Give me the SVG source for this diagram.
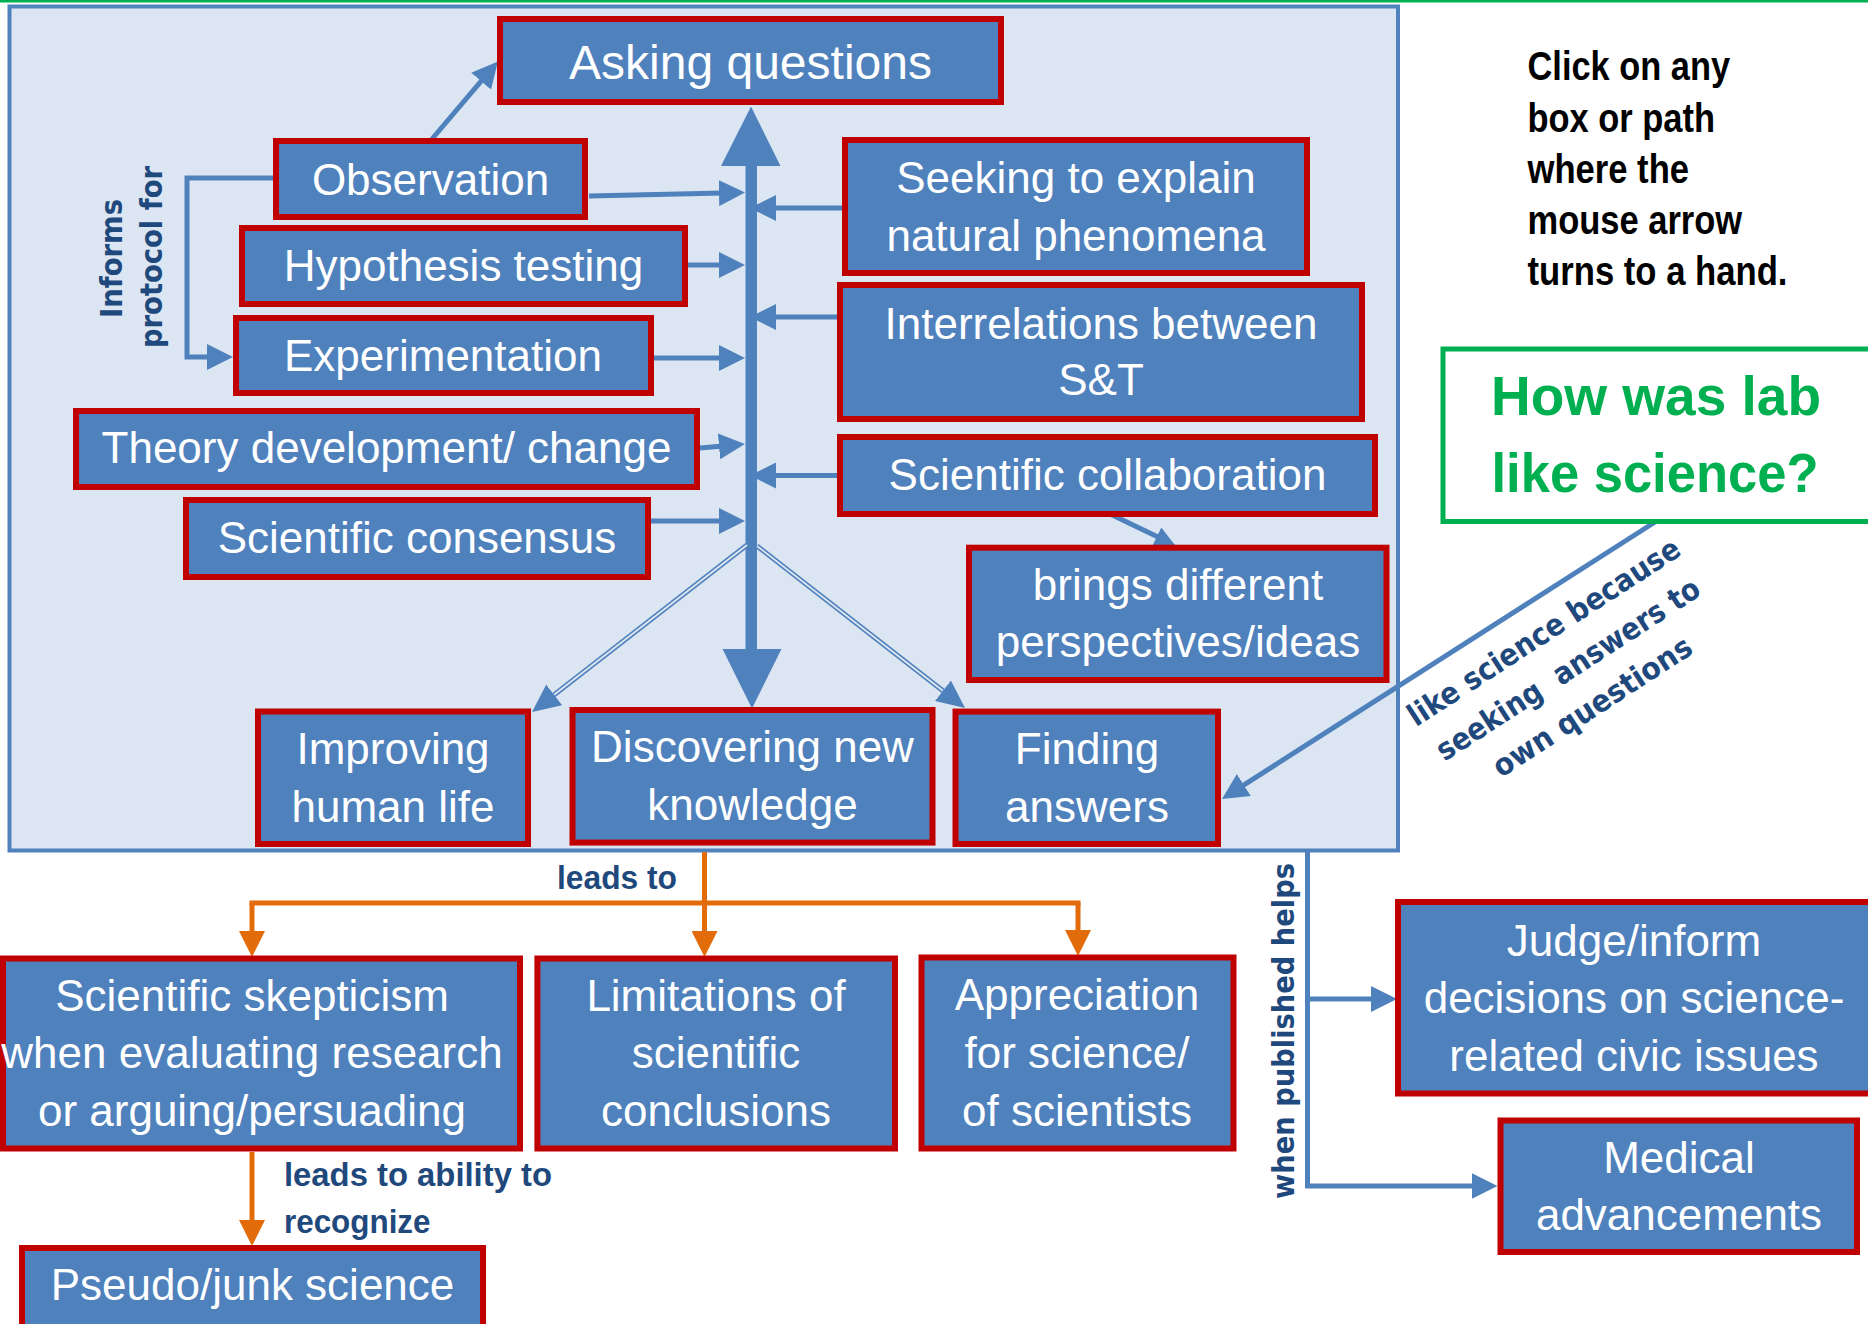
<svg xmlns="http://www.w3.org/2000/svg" width="1868" height="1324" viewBox="0 0 1868 1324">
<style>
.box{fill:#4F81BD;stroke:#C00000;stroke-width:6}
.bt{font-family:"Liberation Sans",Arial,sans-serif;font-size:44px;fill:#FFFFFF;text-anchor:middle}
.lbl{font-family:"DejaVu Sans",Verdana,sans-serif;font-weight:bold;font-size:30.5px;fill:#1F497D;text-anchor:middle}
.lb2{font-family:"Liberation Sans",Arial,sans-serif;font-weight:bold;font-size:34px;fill:#1F497D}
.conn{fill:none;stroke:#4F81BD;stroke-width:5}
.dbl{fill:none;stroke:#DCE6F2;stroke-width:1.8}
.or{fill:none;stroke:#E36C0A;stroke-width:5}
.click{font-family:"Liberation Sans",Arial,sans-serif;font-weight:bold;font-size:40px;fill:#000000}
.green{font-family:"Liberation Sans",Arial,sans-serif;font-weight:bold;font-size:55px;fill:#00B050;text-anchor:middle}
</style>
<defs>
<marker id="ab" viewBox="0 0 26 26" refX="4" refY="13" markerWidth="26" markerHeight="26" markerUnits="userSpaceOnUse" orient="auto"><path d="M0,0 L26,13 L0,26 z" fill="#4F81BD"/></marker>
<marker id="ao" viewBox="0 0 26 26" refX="4" refY="13" markerWidth="26" markerHeight="26" markerUnits="userSpaceOnUse" orient="auto"><path d="M0,0 L26,13 L0,26 z" fill="#E36C0A"/></marker>
<marker id="as" viewBox="0 0 20 20" refX="3" refY="10" markerWidth="20" markerHeight="20" markerUnits="userSpaceOnUse" orient="auto"><path d="M0,0 L20,10 L0,20 z" fill="#4F81BD"/></marker>
<marker id="ad" viewBox="0 0 28 26" refX="4" refY="13" markerWidth="28" markerHeight="26" markerUnits="userSpaceOnUse" orient="auto"><path d="M0,0 L28,13 L0,26 z" fill="#4F81BD"/></marker>
</defs>
<rect x="0" y="0" width="1868" height="1324" fill="#FFFFFF"/>
<line x1="0" y1="1" x2="1868" y2="1" stroke="#00B050" stroke-width="3"/>
<g id="container"><rect x="9.5" y="6.5" width="1388.5" height="844" fill="#DCE6F2" stroke="#4F81BD" stroke-width="4"/></g>

<g id="connectors">
<rect x="745.5" y="164" width="11.5" height="487" fill="#4F81BD"/>
<polygon points="751,106.5 780.5,166 721,166" fill="#4F81BD"/>
<polygon points="722.5,649 781.5,649 752,708.5" fill="#4F81BD"/>
<line class="conn" x1="589" y1="196" x2="723" y2="193" marker-end="url(#ab)"/>
<line class="conn" x1="688" y1="265" x2="723" y2="265" marker-end="url(#ab)"/>
<line class="conn" x1="654" y1="358" x2="723" y2="358" marker-end="url(#ab)"/>
<line class="conn" x1="700" y1="448" x2="723" y2="446" marker-end="url(#ab)"/>
<line class="conn" x1="651" y1="521" x2="723" y2="521" marker-end="url(#ab)"/>
<line class="conn" x1="842" y1="208" x2="772" y2="208" marker-end="url(#ab)"/>
<line class="conn" x1="837" y1="317" x2="772" y2="317" marker-end="url(#ab)"/>
<line class="conn" x1="837" y1="475.5" x2="772" y2="475.5" marker-end="url(#ab)"/>
<line class="conn" x1="432" y1="139" x2="483.7" y2="78.2" marker-end="url(#ab)"/>
<polyline class="conn" points="273,178 187,178 187,357 211,357" marker-end="url(#ab)"/>
<line class="conn" x1="1108" y1="513" x2="1159.6" y2="537.7" marker-end="url(#as)"/>
<line class="conn" x1="747" y1="545" x2="551" y2="697.3" stroke-width="5.5" marker-end="url(#ad)"/>
<line class="dbl" x1="747" y1="545" x2="554.1" y2="694.8"/>
<line class="conn" x1="757" y1="546" x2="946.1" y2="693.25" stroke-width="5.5" marker-end="url(#ad)"/>
<line class="dbl" x1="757" y1="546" x2="942.9" y2="690.8"/>
<line class="conn" x1="1655" y1="522" x2="1240.5" y2="787.1" marker-end="url(#ab)"/>
<line class="or" x1="704.5" y1="852" x2="704.5" y2="935" marker-end="url(#ao)"/>
<line class="or" x1="249.5" y1="903" x2="1080.5" y2="903"/>
<line class="or" x1="252" y1="903" x2="252" y2="935" marker-end="url(#ao)"/>
<line class="or" x1="1078" y1="903" x2="1078" y2="934" marker-end="url(#ao)"/>
<line class="or" x1="252" y1="1152" x2="252" y2="1224" marker-end="url(#ao)"/>
<polyline class="conn" points="1307.5,851 1307.5,1186 1475.5,1186" marker-end="url(#ab)"/>
<line class="conn" x1="1307.5" y1="999" x2="1375" y2="999" marker-end="url(#ab)"/>
</g>

<g id="asking"><rect class="box" x="500" y="19" width="501" height="83"/><text class="bt" x="750.5" y="78.5" style="font-size:48px">Asking questions</text></g>
<g id="observation"><rect class="box" x="276" y="141" width="309" height="76"/><text class="bt" x="430.5" y="195">Observation</text></g>
<g id="hypothesis"><rect class="box" x="242" y="228" width="443" height="76"/><text class="bt" x="463.5" y="281">Hypothesis testing</text></g>
<g id="experimentation"><rect class="box" x="236" y="318" width="415" height="75"/><text class="bt" x="443" y="370.5">Experimentation</text></g>
<g id="theory"><rect class="box" x="76" y="411" width="621" height="76"/><text class="bt" x="386.5" y="463">Theory development/ change</text></g>
<g id="consensus"><rect class="box" x="186" y="500" width="462" height="77"/><text class="bt" x="417" y="553">Scientific consensus</text></g>
<g id="seeking"><rect class="box" x="845" y="140" width="462" height="133"/><text class="bt" x="1076" y="192.5">Seeking to explain</text><text class="bt" x="1076" y="250.5">natural phenomena</text></g>
<g id="interrelations"><rect class="box" x="840" y="285" width="522" height="134"/><text class="bt" x="1101" y="338.5">Interrelations between</text><text class="bt" x="1101" y="395">S&amp;T</text></g>
<g id="collaboration"><rect class="box" x="840" y="437" width="535" height="77"/><text class="bt" x="1107.5" y="490">Scientific collaboration</text></g>
<g id="brings"><rect class="box" x="969" y="547.7" width="417.5" height="132.3"/><text class="bt" x="1178" y="600">brings different</text><text class="bt" x="1178" y="657">perspectives/ideas</text></g>
<g id="improving"><rect class="box" x="258" y="711.5" width="270" height="132.5"/><text class="bt" x="393" y="764">Improving</text><text class="bt" x="393" y="822">human life</text></g>
<g id="discovering"><rect class="box" x="572.5" y="710" width="360" height="132.6"/><text class="bt" x="752.5" y="762">Discovering new</text><text class="bt" x="752.5" y="820">knowledge</text></g>
<g id="finding"><rect class="box" x="955.5" y="711.6" width="262.5" height="132.4"/><text class="bt" x="1087" y="764">Finding</text><text class="bt" x="1087" y="822">answers</text></g>
<g id="skepticism"><rect class="box" x="3" y="958.5" width="517" height="190"/><text class="bt" x="252" y="1011">Scientific skepticism</text><text class="bt" x="252" y="1068">when evaluating research</text><text class="bt" x="252" y="1126">or arguing/persuading</text></g>
<g id="limitations"><rect class="box" x="537.4" y="958.5" width="357.6" height="190"/><text class="bt" x="716" y="1011">Limitations of</text><text class="bt" x="716" y="1068">scientific</text><text class="bt" x="716" y="1126">conclusions</text></g>
<g id="appreciation"><rect class="box" x="921.5" y="957.5" width="312" height="191"/><text class="bt" x="1077" y="1010">Appreciation</text><text class="bt" x="1077" y="1068">for science/</text><text class="bt" x="1077" y="1126">of scientists</text></g>
<g id="pseudo"><rect class="box" x="22" y="1248" width="461" height="85"/><text class="bt" x="252.5" y="1299.5">Pseudo/junk science</text></g>
<g id="judge"><rect class="box" x="1398" y="902" width="480" height="191.5"/><text class="bt" x="1634" y="956">Judge/inform</text><text class="bt" x="1634" y="1013">decisions on science-</text><text class="bt" x="1634" y="1071">related civic issues</text></g>
<g id="medical"><rect class="box" x="1500.5" y="1120.5" width="356.5" height="131.5"/><text class="bt" x="1679" y="1172.5">Medical</text><text class="bt" x="1679" y="1229.5">advancements</text></g>
<g id="question"><rect x="1443" y="349" width="440" height="172.5" fill="#FFFFFF" stroke="#00B050" stroke-width="5"/><text class="green" x="1656" y="415" textLength="330" lengthAdjust="spacingAndGlyphs">How was lab</text><text class="green" x="1655" y="492" textLength="327" lengthAdjust="spacingAndGlyphs">like science?</text></g>

<g id="labels">
<text class="lbl" transform="translate(121.5,258.5) rotate(-90)" textLength="119" lengthAdjust="spacingAndGlyphs">Informs</text>
<text class="lbl" transform="translate(162,257) rotate(-90)" textLength="182" lengthAdjust="spacingAndGlyphs">protocol for</text>
<text class="lbl" transform="translate(1294,1031) rotate(-90)" textLength="336" lengthAdjust="spacingAndGlyphs">when published helps</text>
<g transform="translate(1573.7,678) rotate(-33)">
<text class="lbl" x="0" y="-44.5" textLength="318" lengthAdjust="spacingAndGlyphs">like science because</text>
<text class="lbl" x="0" y="0" xml:space="preserve" textLength="308" lengthAdjust="spacingAndGlyphs">seeking  answers to</text>
<text class="lbl" x="0" y="44.5" textLength="231" lengthAdjust="spacingAndGlyphs">own questions</text>
</g>
<text class="lb2" x="557" y="889" textLength="120" lengthAdjust="spacingAndGlyphs">leads to</text>
<text class="lb2" x="284" y="1186" textLength="268" lengthAdjust="spacingAndGlyphs">leads to ability to</text>
<text class="lb2" x="284" y="1232.5" textLength="146.5" lengthAdjust="spacingAndGlyphs">recognize</text>
</g>
<g id="note">
<text class="click" x="1527.5" y="80.4" textLength="202.5" lengthAdjust="spacingAndGlyphs">Click on any</text>
<text class="click" x="1527.5" y="132" textLength="187.5" lengthAdjust="spacingAndGlyphs">box or path</text>
<text class="click" x="1527.5" y="183" textLength="161.5" lengthAdjust="spacingAndGlyphs">where the</text>
<text class="click" x="1527.5" y="233.5" textLength="214.6" lengthAdjust="spacingAndGlyphs">mouse arrow</text>
<text class="click" x="1527.5" y="285" textLength="260" lengthAdjust="spacingAndGlyphs">turns to a hand.</text>
</g>
</svg>
